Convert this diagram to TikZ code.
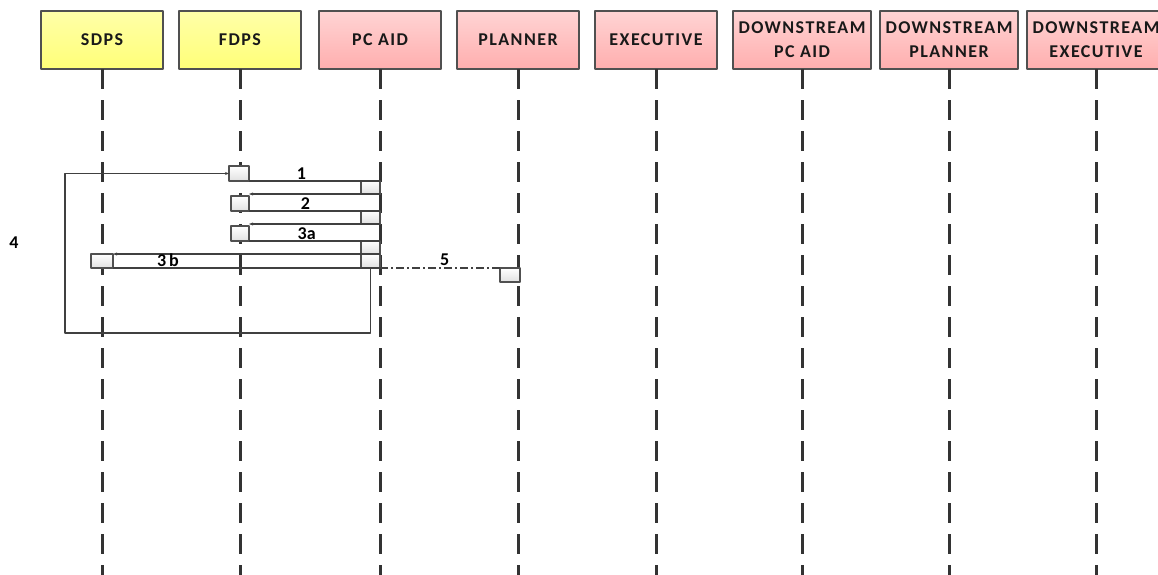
\documentclass[tikz,border=0pt]{standalone}
\usepackage{fontspec}
\setmainfont{Carlito}
\newfontfamily\hdrfont[LetterSpace=8]{Carlito}
\usetikzlibrary{arrows.meta}

\definecolor{ylwtop}{HTML}{FFFFA8}
\definecolor{ylwbot}{HTML}{FFFF78}
\definecolor{pnktop}{HTML}{FFD4D4}
\definecolor{pnkbot}{HTML}{FFAEAE}
\definecolor{boxgray}{HTML}{505050}

\tikzset{
	actor/.style={draw=boxgray, line width=1.5pt, minimum width=122pt, minimum height=58pt,
		inner sep=0pt, outer sep=0pt, align=center, text=black!90,
		font=\hdrfont\bfseries\fontsize{18}{24}\selectfont},
	wideactor/.style={actor, minimum width=138pt},
	feed/.style={top color=ylwtop, bottom color=ylwbot},
	ctrl/.style={top color=pnktop, bottom color=pnkbot},
	lifeline/.style={line width=3pt, draw=black!80, dash pattern=on 20pt off 11pt, line cap=butt},
	act/.style={draw=boxgray, line width=1.3pt, top color=white, bottom color=black!12,
		inner sep=0pt, outer sep=0pt},
	msg/.style={draw=black!75, line width=1.4pt},
	reply/.style={msg, dash pattern=on 8pt off 3pt on 2pt off 3pt},
	lbl/.style={font=\bfseries\fontsize{18}{18}\selectfont, inner sep=0.5pt}
}

\begin{document}
\begin{tikzpicture}[x=1pt, y=-1pt, line join=round, >={Stealth[length=4pt,width=3pt]}]
	\useasboundingbox (0,0) rectangle (1158,574);
	\coordinate (bottom) at (0,576);
	% actors
	\node[actor,feed] (sdps) at (102,40) {SDPS};
	\node[actor,feed] (fdps) at (240,40) {FDPS};
	\node[actor,ctrl] (pcaid) at (380,40) {PC AID};
	\node[actor,ctrl] (planner) at (518,40) {PLANNER};
	\node[actor,ctrl] (exec) at (656,40) {EXECUTIVE};
	\node[wideactor,ctrl] (dspcaid) at (802,40) {DOWNSTREAM\\PC AID};
	\node[wideactor,ctrl] (dsplanner) at (949,40) {DOWNSTREAM\\PLANNER};
	\node[wideactor,ctrl] (dsexec) at (1096,40) {DOWNSTREAM\\EXECUTIVE};
	\foreach \a in {sdps,fdps,pcaid,planner,exec,dspcaid,dsplanner,dsexec}
		\draw[lifeline] (\a.south) -- (\a.south |- bottom);
	% activations
	\node[act, minimum width=20pt, minimum height=15pt] (f1) at (239,173.5) {};
	\node[act, minimum width=19pt, minimum height=13pt] (p1) at (370.5,187.5) {};
	\node[act, minimum width=18pt, minimum height=15pt] (f2) at (240,203.5) {};
	\node[act, minimum width=19pt, minimum height=13pt] (p2) at (370.5,217.5) {};
	\node[act, minimum width=18pt, minimum height=15pt] (f3) at (240,233.5) {};
	\node[act, minimum width=19pt, minimum height=13pt] (p3) at (370.5,247.5) {};
	\node[act, minimum width=19pt, minimum height=14pt] (p4) at (370.5,261) {};
	\node[act, minimum width=22pt, minimum height=14pt] (s1) at (102,261) {};
	\node[act, minimum width=20pt, minimum height=14pt] (pl1) at (510,275) {};
	% messages
	\draw[msg] (f1.south east) -- (p1.north east) node[lbl, pos=.40, above] {1};
	\draw[msg,->] (p1.south east) -- (f2.north east |- p1.south);
	\draw[msg] (f2.south east) -- (p2.north east) node[lbl, pos=.43, above] {2};
	\draw[msg,->] (p2.south east) -- (f3.north east |- p2.south);
	\draw[msg] (f3.south east) -- (p3.north east) node[lbl, pos=.44, above] {3a};
	\draw[msg,->] (p3.south east) -- (s1.north east);
	\draw[msg] (s1.south east) -- (p4.south east);
	\node[lbl] (m3b) at (168,260) {3\,b};
	\draw[reply] (p4.south east) -- (pl1.north west) node[lbl, pos=.54, above=1pt] {5};
	% loop back to FDPS
	\coordinate (loop4) at (65,333);
	\draw[msg,->] (p4.south) |- (loop4) |- (f1.west);
	\node[lbl] (m4) at (14,243) {4};
\end{tikzpicture}
\end{document}
